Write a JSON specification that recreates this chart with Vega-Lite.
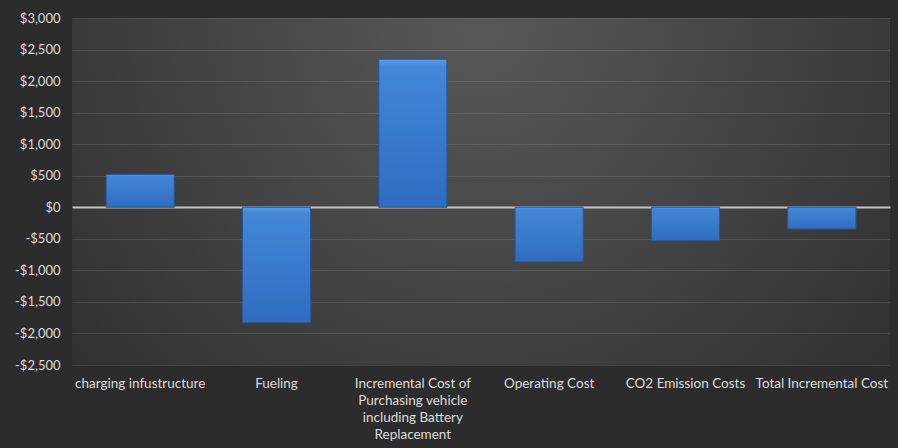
{
  "$schema": "https://vega.github.io/schema/vega-lite/v6.json",
  "width": 818,
  "height": 347,
  "autosize": {"type": "none"},
  "padding": {"left": 72, "top": 18, "right": 8, "bottom": 83},
  "background": "#2c2c2c",
  "config": {
    "view": {
      "stroke": null,
      "fill": {"gradient": "radial", "x1": 0.5, "y1": 0.3, "r1": 0, "x2": 0.5, "y2": 0.3, "r2": 0.75,
        "stops": [{"offset": 0, "color": "#585858"}, {"offset": 1, "color": "#2a2a2a"}]}
    },
    "font": "Lato",
    "axis": {"labelColor": "#dcdcdc", "labelFont": "Lato", "labelFontSize": 13, "domain": false, "ticks": false, "title": null}
  },
  "data": {"values": [
    {"category": "charging infustructure", "value": 521},
    {"category": "Fueling", "value": -1830},
    {"category": "Incremental Cost of Purchasing vehicle including Battery Replacement", "value": 2347},
    {"category": "Operating Cost", "value": -865},
    {"category": "CO2 Emission Costs", "value": -530},
    {"category": "Total Incremental Cost", "value": -345}
  ]},
  "mark": {"type": "bar", "stroke": "#2a5592", "strokeWidth": 1,
    "fill": {"gradient": "linear", "x1": 0, "y1": 0, "x2": 0, "y2": 1,
      "stops": [{"offset": 0, "color": "#5a9ce6"}, {"offset": 0.05, "color": "#4287d8"}, {"offset": 1, "color": "#2f6cc0"}]}},
  "encoding": {
    "x": {"field": "category", "type": "nominal", "sort": null,
      "scale": {"paddingInner": 0.5, "paddingOuter": 0.25},
      "axis": {"labelAngle": 0, "labelPadding": 11, "labelLineHeight": 17, "labelBaseline": "top", "grid": false, "labelOverlap": false, "labelFontSize": 13.5,
        "labelExpr": "datum.value == 'Incremental Cost of Purchasing vehicle including Battery Replacement' ? ['Incremental Cost of', 'Purchasing vehicle', 'including Battery', 'Replacement'] : datum.value"}},
    "y": {"field": "value", "type": "quantitative",
      "scale": {"domain": [-2500, 3000], "nice": false, "zero": false},
      "axis": {"values": [-2500, -2000, -1500, -1000, -500, 0, 500, 1000, 1500, 2000, 2500, 3000],
        "labelOverlap": false, "labelFlush": false, "tickCount": 12,
        "labelPadding": 12, "grid": true,
        "gridColor": {"condition": {"test": "datum.value === 0", "value": "#c4c4c4"}, "value": "#ffffff"},
        "gridOpacity": {"condition": {"test": "datum.value === 0", "value": 1}, "value": 0.1},
        "gridWidth": {"condition": {"test": "datum.value === 0", "value": 2}, "value": 1},
        "labelExpr": "(datum.value < 0 ? '-' : '') + '$' + format(abs(datum.value), ',')"}}
  }
}
